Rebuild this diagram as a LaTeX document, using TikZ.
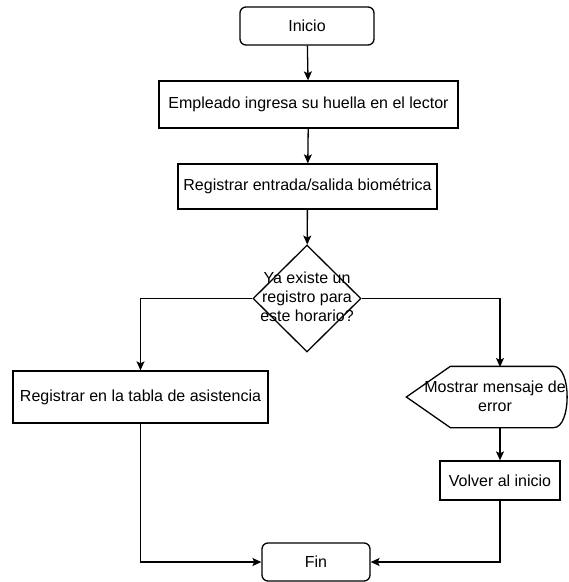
\documentclass[tikz,border=0pt]{standalone}
\usepackage{fontspec}
\setmainfont{Liberation Sans}
\usetikzlibrary{shapes.geometric,arrows.meta}
\begin{document}
\begin{tikzpicture}[x=1pt,y=-1pt,
  line width=1.3pt,
  every node/.style={font=\fontsize{16}{19}\selectfont, inner sep=0pt, align=center},
  terminal/.style={draw, rounded corners=6pt},
  process/.style={draw},
  decision/.style={draw, diamond, minimum width=108pt, minimum height=107pt},
  flow/.style={-{Stealth[length=9pt,width=8pt,inset=2pt]}}
]
\useasboundingbox (0,0) rectangle (569,582);

% terminals
\node[terminal, minimum width=134pt, minimum height=38pt] (inicio) at (307,26) {Inicio};
\node[terminal, minimum width=108pt, minimum height=38pt] (fin) at (316,562) {Fin};

% processes
\node[process, minimum width=299pt, minimum height=47pt] (lector) at (308.5,104.5) {Empleado ingresa su huella en el lector};
\node[process, minimum width=259pt, minimum height=45pt] (registro) at (307.5,186.5) {Registrar entrada/salida biométrica};
\node[process, minimum width=255pt, minimum height=52pt] (tabla) at (140.5,397) {Registrar en la tabla de asistencia};
\node[process, minimum width=120pt, minimum height=39pt] (volver) at (500,480.5) {Volver al inicio};

% decision
\node[decision] (existe) at (307,298.5) {};
\node (existetxt) at (307,297) {Ya existe un\\registro para\\este horario?};

% display shape for the error message
\node[minimum width=162pt, minimum height=60pt] (error) at (488,397) {};
\draw (error.west) -- ([xshift=44pt]error.north west) -- ([xshift=-16pt]error.north east)
  .. controls ([xshift=2pt]error.north east) and ([xshift=2pt]error.south east) .. ([xshift=-16pt]error.south east)
  -- ([xshift=44pt]error.south west) -- cycle;
\node (errortxt) at (495,396) {Mostrar mensaje de\\error};

% connectors
\draw[flow] (inicio) -- (lector);
\draw[flow] (lector) -- (registro);
\draw[flow] (registro) -- (existe);
\draw[flow] (existe.west) -| (tabla.north);
\coordinate (errtop) at (500,367);
\draw[flow] (existe.east) -| (errtop);
\draw[flow] (errtop |- error.south) -- (volver.north);
\draw[flow] (tabla.south) |- (fin.west);
\draw[flow] (volver.south) |- (fin.east);
\end{tikzpicture}
\end{document}
